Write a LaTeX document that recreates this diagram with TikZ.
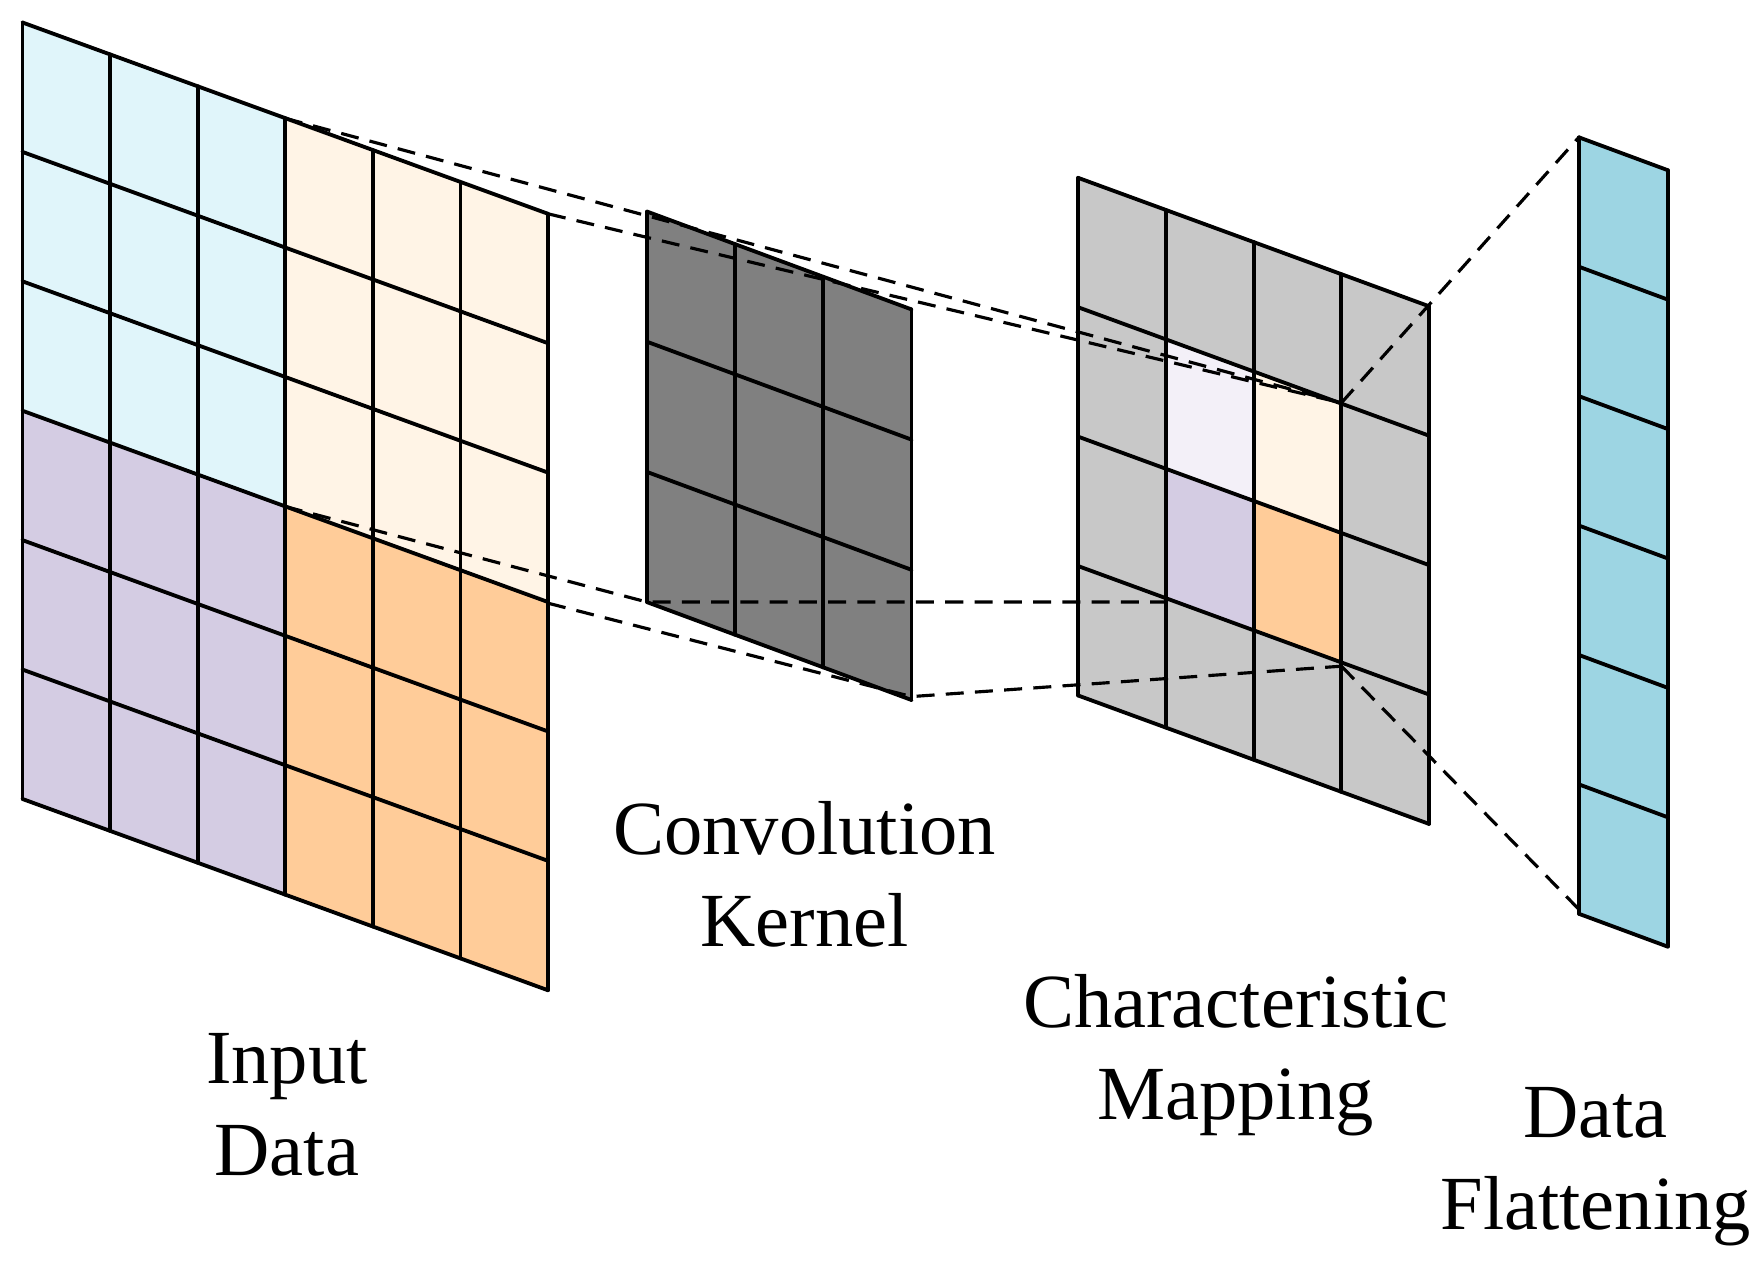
\documentclass[tikz,border=0pt]{standalone}
\usepackage{fontspec}
\setmainfont{Liberation Serif}
\definecolor{cA}{HTML}{E0F5FA}
\definecolor{cB}{HTML}{FFF4E6}
\definecolor{cC}{HTML}{D4CCE3}
\definecolor{cD}{HTML}{FFCC99}
\definecolor{cK}{HTML}{808080}
\definecolor{cF}{HTML}{C8C8C8}
\definecolor{cL}{HTML}{F3F0F8}
\definecolor{cT}{HTML}{9DD5E3}
\begin{document}
\begin{tikzpicture}[x=1pt,y=-1pt,
  gl/.style={line width=3.4pt,line cap=round,line join=round},
  dl/.style={line width=2.8pt,dash pattern=on 16pt off 10pt},
  lab/.style={font=\fontsize{68}{82}\selectfont,align=center}]
\useasboundingbox (0,0) rectangle (1564,1125);
\newcommand\gcell[8]{\fill[#8] ({#1+#6*#3},{#2+#5*#6*#3+#7*#4}) -- ({#1+(#6+1)*#3},{#2+#5*(#6+1)*#3+#7*#4}) -- ({#1+(#6+1)*#3},{#2+#5*(#6+1)*#3+(#7+1)*#4}) -- ({#1+#6*#3},{#2+#5*#6*#3+(#7+1)*#4}) -- cycle;}
\newcommand\glines[7]{%
 \foreach \i in {0,...,#6}{\draw[gl] ({#1+\i*#3},{#2+#5*\i*#3}) -- ({#1+\i*#3},{#2+#5*\i*#3+#7*#4});}
 \foreach \j in {0,...,#7}{\draw[gl] (#1,{#2+\j*#4}) -- ({#1+#6*#3},{#2+#5*#6*#3+\j*#4});}}
\def\ia{20}\def\ib{20}\def\iw{77.83}\def\ih{115}\def\is{0.364}
\foreach \i in {0,...,5}{\foreach \j in {0,...,5}{%
  \pgfmathtruncatemacro\q{(\i>2)+2*(\j>2)}%
  \ifcase\q \def\cc{cA}\or\def\cc{cB}\or\def\cc{cC}\else\def\cc{cD}\fi
  \gcell{\ia}{\ib}{\iw}{\ih}{\is}{\i}{\j}{\cc}}}
\glines{\ia}{\ib}{\iw}{\ih}{\is}{6}{6}
\foreach \i in {0,...,2}{\foreach \j in {0,...,2}{\gcell{575}{188}{78.33}{115.7}{0.37}{\i}{\j}{cK}}}
\glines{575}{188}{78.33}{115.7}{0.37}{3}{3}
\foreach \i in {0,...,3}{\foreach \j in {0,...,3}{\gcell{958}{158}{78}{115}{0.366}{\i}{\j}{cF}}}
\gcell{958}{158}{78}{115}{0.366}{1}{1}{cL}
\gcell{958}{158}{78}{115}{0.366}{2}{1}{cB}
\gcell{958}{158}{78}{115}{0.366}{1}{2}{cC}
\gcell{958}{158}{78}{115}{0.366}{2}{2}{cD}
\glines{958}{158}{78}{115}{0.366}{4}{4}
\foreach \j in {0,...,5}{\gcell{1403}{122}{79}{115}{0.37}{0}{\j}{cT}}
\glines{1403}{122}{79}{115}{0.37}{1}{6}
\coordinate (i1) at (253,105);
\coordinate (i2) at (487,190);
\coordinate (i3) at (253,450);
\coordinate (i4) at (487,536);
\coordinate (k3) at (575,535);
\coordinate (k4) at (810,619);
\coordinate (f1) at (1192,358);
\coordinate (f3) at (1036,535);
\coordinate (f4) at (1192,592);
\coordinate (d1) at (1403,122);
\coordinate (d2) at (1403,808);
\draw[dl] (i1) -- (f1);
\draw[dl] (i2) -- (f1);
\draw[dl] (i3) -- (k3) -- (f3);
\draw[dl] (i4) -- (k4) -- (f4);
\draw[dl] (f1) -- (d1);
\draw[dl] (f4) -- (d2);
\node[lab] (l1) at (255,982) {Input\\Data};
\node[lab] (l2) at (715,777) {Convolution\\Kernel};
\node[lab] (l3) at (1098,938) {Characteristic\\Mapping};
\node[lab] (l4) at (1418,1037) {Data\\Flattening};
\end{tikzpicture}
\end{document}
